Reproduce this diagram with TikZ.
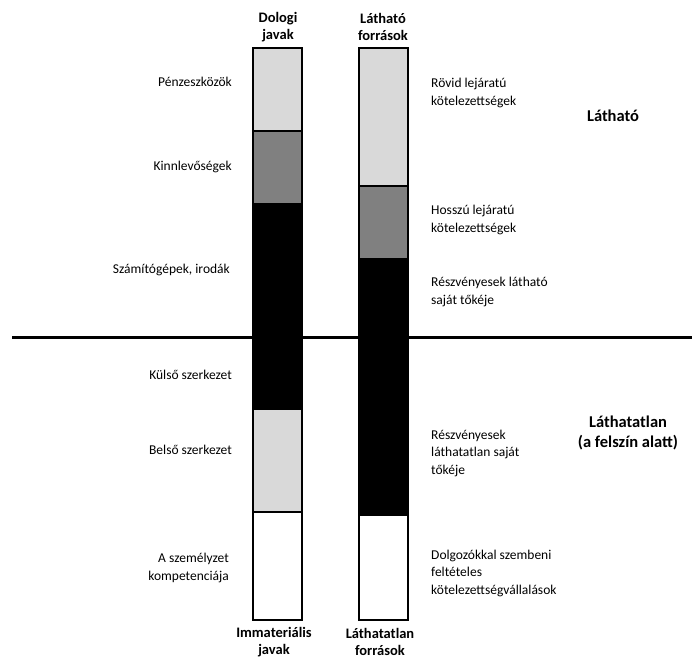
\documentclass[tikz,border=0pt]{standalone}
\usepackage{fontspec}
\setmainfont{Carlito}
\definecolor{lightfill}{HTML}{D9D9D9}
\definecolor{midfill}{HTML}{808080}
\begin{document}
\begin{tikzpicture}[x=1pt,y=-1pt,
  seg/.style={draw=black,line width=1.8pt},
  lbl/.style={font=\fontsize{13.5}{17.5}\selectfont,align=right,anchor=east,inner sep=0pt},
  rlbl/.style={font=\fontsize{13.5}{17.5}\selectfont,align=left,anchor=west,inner sep=0pt},
  head/.style={font=\fontsize{14.5}{17.5}\selectfont\bfseries,align=center,inner sep=0pt},
  side/.style={font=\fontsize{16.5}{20}\selectfont\bfseries,align=center,inner sep=0pt}]
\useasboundingbox (0,0) rectangle (692,658);
% left column: assets
\filldraw[seg,fill=lightfill] (253,48) rectangle (302,131);
\filldraw[seg,fill=midfill] (253,131) rectangle (302,204);
\filldraw[seg,fill=black] (253,204) rectangle (302,409);
\filldraw[seg,fill=lightfill] (253,409) rectangle (302,512);
\filldraw[seg,fill=white] (253,512) rectangle (302,620);
% right column: sources
\filldraw[seg,fill=lightfill] (359,48) rectangle (408,186);
\filldraw[seg,fill=midfill] (359,186) rectangle (408,259);
\filldraw[seg,fill=black] (359,259) rectangle (408,515);
\filldraw[seg,fill=white] (359,515) rectangle (408,620);
% surface line
\draw[line width=3pt] (12,337) -- (692,337);
% column headings
\node[head] (hl) at (278,27) {Dologi\\javak};
\node[head] (hr) at (383,27) {Látható\\források};
\node[head] (fl) at (274,642) {Immateriális\\javak};
\node[head] (fr) at (380,642) {Láthatatlan\\források};
% left labels
\node[lbl] (a1) at (232,82) {Pénzeszközök};
\node[lbl] (a2) at (232,167) {Kinnlevőségek};
\node[lbl] (a3) at (230,270) {Számítógépek, irodák};
\node[lbl] (a4) at (232,375) {Külső szerkezet};
\node[lbl] (a5) at (232,450) {Belső szerkezet};
\node[lbl] (a6) at (229,568) {A személyzet\\kompetenciája};
% right labels
\node[rlbl] (b1) at (431,93) {Rövid lejáratú\\kötelezettségek};
\node[rlbl] (b2) at (431,220) {Hosszú lejáratú\\kötelezettségek};
\node[rlbl] (b3) at (431,292) {Részvényesek látható\\saját tőkéje};
\node[rlbl] (b4) at (431,453) {Részvényesek\\láthatatlan saját\\tőkéje};
\node[rlbl] (b5) at (431,573) {Dolgozókkal szembeni\\feltételes\\kötelezettségvállalások};
% side headings
\node[side] (s1) at (613,116) {Látható};
\node[side] (s2) at (628,433) {Láthatatlan\\(a felszín alatt)};
\end{tikzpicture}
\end{document}
